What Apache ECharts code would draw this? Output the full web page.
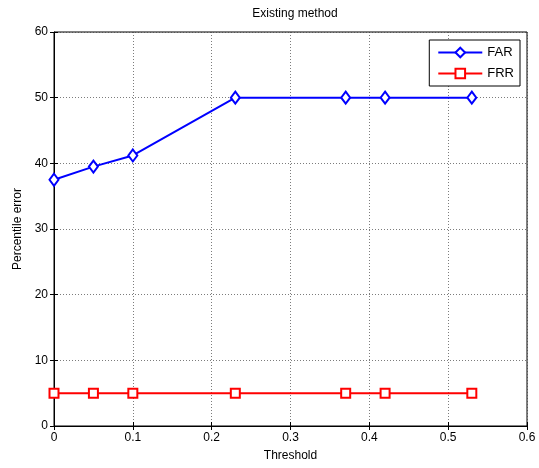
<!DOCTYPE html>
<html>
<head>
<meta charset="utf-8">
<script src="https://cdn.jsdelivr.net/npm/echarts@6/dist/echarts.min.js"></script>
<style>
  html, body { margin: 0; padding: 0; background: #fff; }
  #chart { width: 539px; height: 468px; }
</style>
</head>
<body>
<div id="chart"></div>
<script>
  // threshold values on the x axis
  var thresholds = [0, 0.05, 0.1, 0.23, 0.37, 0.42, 0.53];
  // false acceptance rate
  var farValues = [37.5, 39.5, 41.2, 50, 50, 50, 50];
  // false rejection rate
  var frrValues = [5, 5, 5, 5, 5, 5, 5];

  var chart = echarts.init(document.getElementById('chart'));
  var font = 'Liberation Sans, Arial, sans-serif';

  function pairs(ys) {
    return thresholds.map(function (x, i) { return [x, ys[i]]; });
  }

  var gridLine = { show: true, lineStyle: { color: '#444', type: [1, 2], width: 0.7 } };

  var option = {
    animation: false,
    backgroundColor: '#fff',
    title: {
      text: 'Existing method',
      left: 290,
      top: 3,
      textAlign: 'center',
      textStyle: { fontFamily: font, fontSize: 12, fontWeight: 'normal', color: '#000' }
    },
    legend: {
      right: 19,
      top: 40,
      orient: 'vertical',
      itemWidth: 44,
      itemHeight: 12,
      itemGap: 8,
      padding: [6, 6, 6, 8],
      borderColor: '#000',
      borderWidth: 1,
      backgroundColor: '#fff',
      textStyle: { fontFamily: font, fontSize: 13, color: '#000' },
      data: ['FAR', 'FRR']
    },
    grid: {
      left: 54, right: 12, top: 32, bottom: 42,
      show: true, borderColor: '#000', borderWidth: 1
    },
    xAxis: [{
      type: 'value', min: 0, max: 0.6, interval: 0.1,
      name: 'Threshold', nameLocation: 'middle', nameGap: 24,
      nameTextStyle: { fontFamily: font, fontSize: 12, color: '#000' },
      axisLine: { show: true, lineStyle: { color: '#000' } },
      axisTick: { show: true, inside: true, length: 4, lineStyle: { color: '#000' } },
      axisLabel: { fontFamily: font, fontSize: 12, color: '#000', margin: 6,
        formatter: function (v) { return String(Math.round(v * 10) / 10); } },
      splitLine: gridLine
    }, {
      type: 'value', min: 0, max: 0.6, interval: 0.1, position: 'top',
      axisLine: { show: false }, axisLabel: { show: false },
      axisTick: { show: true, inside: true, length: 4, lineStyle: { color: '#000' } },
      splitLine: { show: false }
    }],
    yAxis: [{
      type: 'value', min: 0, max: 60, interval: 10,
      name: 'Percentile error', nameLocation: 'middle', nameGap: 30,
      nameTextStyle: { fontFamily: font, fontSize: 12, color: '#000' },
      axisLine: { show: true, lineStyle: { color: '#000' } },
      axisTick: { show: true, inside: true, length: 4, lineStyle: { color: '#000' } },
      axisLabel: { fontFamily: font, fontSize: 12, color: '#000', margin: 6 },
      splitLine: gridLine
    }, {
      type: 'value', min: 0, max: 60, interval: 10, position: 'right',
      axisLine: { show: false }, axisLabel: { show: false },
      axisTick: { show: true, inside: true, length: 4, lineStyle: { color: '#000' } },
      splitLine: { show: false }
    }],
    series: [{
      name: 'FAR', type: 'line',
      data: pairs(farValues),
      symbol: 'emptyDiamond', symbolSize: [9, 12],
      color: '#0000ff',
      lineStyle: { color: '#0000ff', width: 2 },
      itemStyle: { color: '#0000ff', borderColor: '#0000ff', borderWidth: 2 }
    }, {
      name: 'FRR', type: 'line',
      data: pairs(frrValues),
      symbol: 'emptyRect', symbolSize: 9,
      color: '#ff0000',
      lineStyle: { color: '#ff0000', width: 2 },
      itemStyle: { color: '#ff0000', borderColor: '#ff0000', borderWidth: 2 }
    }]
  };

  chart.setOption(option);
</script>
</body>
</html>
